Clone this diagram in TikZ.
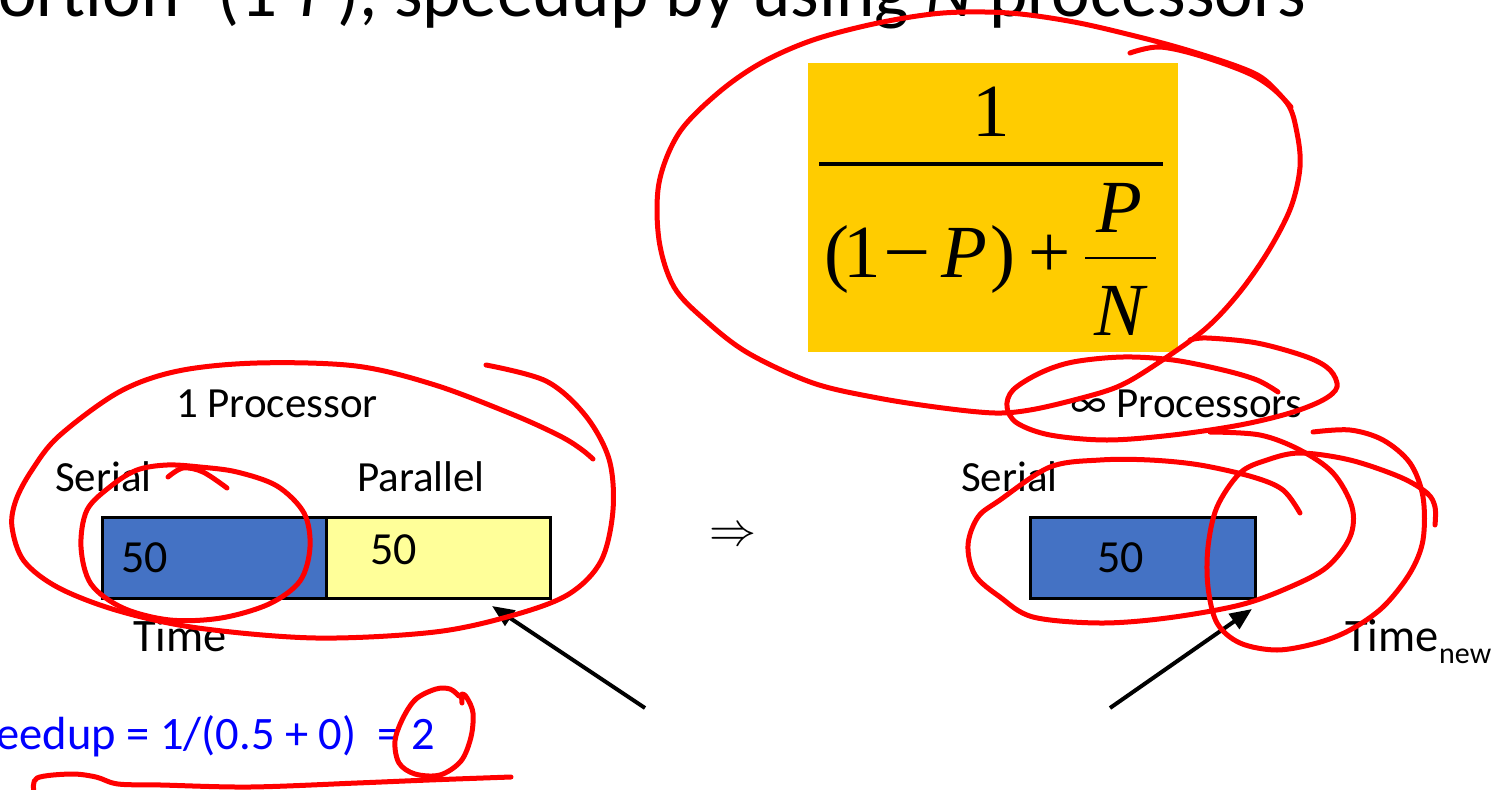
\documentclass[tikz,border=0pt]{standalone}
\usepackage{fontspec}
\setmainfont{Carlito}
\newfontfamily\fmfont{Liberation Serif}
\usetikzlibrary{arrows.meta}
\definecolor{boxblue}{HTML}{4472C4}
\definecolor{boxyellow}{HTML}{FFFF99}
\definecolor{fmyellow}{HTML}{FFCC00}
\definecolor{pen}{HTML}{FF0000}
\definecolor{txtblue}{HTML}{0000FF}
\begin{document}
\begin{tikzpicture}[x=1pt,y=-1pt,
  lbl/.style={font=\fontsize{43}{50}\selectfont, inner sep=0pt, anchor=base west},
  tlbl/.style={font=\fontsize{46.5}{52}\selectfont, inner sep=0pt, anchor=base west},
  num/.style={font=\fontsize{46}{52}\selectfont, inner sep=0pt, anchor=base},
  fm/.style={font=\fmfont\fontsize{75}{80}\selectfont, inner sep=0pt, anchor=base},
  cell/.style={draw=black, line width=2.5pt, inner sep=0pt, anchor=north west, minimum height=81pt},
  ink/.style={draw=pen, line width=5pt, line cap=round, line join=round},
  pointer/.style={draw=black, line width=4pt, -{Triangle[length=22pt,width=18pt]}}]
\path[use as bounding box] (0,0) rectangle (1497,790);
\clip (0,0) rectangle (1497,790);

% title (cut at top)
\node[font=\fontsize{73}{80}\selectfont, inner sep=0pt, anchor=base east] (title) at (1306,16)
  {ortion\hspace{22pt} (1-\textit{P}), speedup by using \textit{N} processors};

% formula
\node[fill=fmyellow, inner sep=0pt, minimum width=370pt, minimum height=289pt, anchor=north west] (fbox) at (808,63) {};
\node[fm] (fone) at (991,136) {1};
\draw[line width=3.5pt] (819,164) -- (1163,164);
\node[fm] (fpl) at (837,277) {(};
\node[fm] (fone2) at (862,277) {1};
\node[fm, xscale=1.12] (fminus) at (907,277) {−};
\node[fm] (fP) at (964,277) {\itshape P};
\node[fm] (fpr) at (1003,277) {)};
\node[fm] (fplus) at (1049.5,277) {+};
\node[fm] (fP2) at (1119,232) {\itshape P};
\draw[line width=2pt] (1085,258) -- (1156,258);
\node[fm] (fN) at (1120,335) {\itshape N};

% left: 1 processor
\node[lbl] (oneproc) at (176,417) {1 Processor};
\node[lbl] (serA) at (55,491) {Serial};
\node[lbl] (parA) at (357,491) {Parallel};
\node[cell, fill=boxblue, minimum width=224pt] (boxA) at (101,516) {};
\node[cell, fill=boxyellow, minimum width=224pt] (boxB) at (325,516) {};
\node[num] (nA) at (144.5,572) {50};
\node[num] (nB) at (393.5,564) {50};
\node[tlbl] (timeA) at (133,651) {Time};

% implies
\node[inner sep=0pt, scale=4.7] (impl) at (733,537) {$\Rightarrow$};

% right: infinite processors
\node[lbl] (infproc) at (1070,417) {∞ Processors};
\node[lbl] (serC) at (961,491) {Serial};
\node[cell, fill=boxblue, minimum width=225pt] (boxC) at (1029,516) {};
\node[num] (nC) at (1120.5,572) {50};
\node[tlbl] (timeC) at (1345,651) {Time};
\node[font=\fontsize{30}{32}\selectfont, inner sep=0pt, anchor=base west] (newsub) at (1439,663) {new};

% speedup line
\node[font=\fontsize{46.5}{52}\selectfont, text=txtblue, inner sep=0pt, anchor=base east] (speed) at (435,749)
  {Speedup = 1/(0.5 + 0)\ \ = 2};

% black arrows
\coordinate (la0) at (645,708);
\coordinate (la1) at (492,606);
\coordinate (ra0) at (1110,708);
\coordinate (ra1) at (1252,609);
\draw[pointer] (la0) -- (la1);
\draw[pointer] (ra0) -- (ra1);

% red hand-drawn annotations
\draw[ink] plot[smooth, tension=0.55] coordinates {(1130,53) (1160,47) (1204,57) (1256,77) (1287,103) (1297,133) (1300,167) (1291,207) (1269,250) (1239,293) (1204,330) (1152,367) (1117,387) (1074,400) (1030,410) (995,413) (943,408) (878,398) (813,383) (748,353) (705,320) (674,287) (659,240) (659,183) (679,133) (718,93) (761,63) (813,40) (878,23) (943,13) (1009,13) (1074,22) (1139,37) (1187,50) (1239,67) (1265,80) (1291,107)};

\draw[ink] plot[smooth, tension=0.55] coordinates {(1278,392) (1257,380) (1223,370) (1173,360) (1123,357) (1073,362) (1040,373) (1013,390) (1007,407) (1017,423) (1050,435) (1107,440) (1173,435) (1240,425) (1290,413) (1323,400) (1337,387) (1330,370) (1307,357) (1257,343) (1207,338) (1190,340)};

\draw[ink] plot[smooth, tension=0.55] coordinates {(1210,432) (1260,435) (1300,450) (1333,473) (1352,507) (1350,537) (1327,567) (1290,587) (1240,605) (1167,618) (1100,623) (1033,617) (1000,597) (975,575) (968,545) (978,517) (1000,500) (1050,467) (1100,460) (1150,460) (1200,465) (1253,477) (1283,490) (1300,513)};

\draw[ink] plot[smooth, tension=0.55] coordinates {(1313,432) (1350,430) (1383,440) (1410,463) (1423,497) (1423,540) (1410,573) (1383,607) (1350,630) (1317,643) (1277,650) (1240,643) (1217,623) (1208,587) (1208,547) (1217,507) (1240,473) (1267,460) (1300,453) (1350,460) (1400,477) (1427,493) (1435,507) (1435,525)};

\draw[ink] plot[smooth, tension=0.55] coordinates {(486,365) (546,381) (585,415) (609,459) (613,510) (601,561) (569,594) (514,615) (435,632) (316,638) (198,628) (119,611) (59,588) (24,561) (12,527) (16,500) (32,470) (59,436) (119,392) (178,371) (257,363) (356,366) (435,385) (514,415) (560,436) (581,449) (593,459)};

\draw[ink] plot[smooth cycle, tension=0.55] coordinates {(137,470) (167,465) (200,467) (237,472) (277,486) (304,513) (310,547) (300,581) (269,604) (221,618) (170,620) (123,608) (91,584) (81,547) (87,510) (111,486)};
\draw[ink] plot[smooth, tension=0.55] coordinates {(168,477) (183,468) (203,472) (227,488)};

\draw[ink] plot[smooth, tension=0.55] coordinates {(459,696) (450,689) (436,689) (416,699) (403,718) (395,741) (399,763) (415,774) (440,775) (461,761) (471,737) (473,713) (467,698) (462,694) (462,703)};

\draw[ink] plot[smooth, tension=0.55] coordinates {(34,792) (37,778) (71,774) (96,777) (118,784) (161,785) (250,787) (357,783) (429,780) (511,777)};
\end{tikzpicture}
\end{document}
